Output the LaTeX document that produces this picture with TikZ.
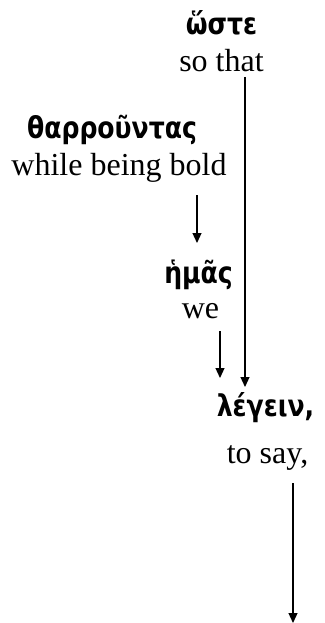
\documentclass[tikz,border=0pt]{standalone}
\usepackage{fontspec}
\setmainfont{Liberation Serif}
\newfontfamily\grk[FakeStretch=0.93]{DejaVu Sans Condensed}
\usetikzlibrary{arrows.meta,calc}
\tikzset{
  gk/.style={anchor=base,inner sep=0pt,font=\grk\bfseries\fontsize{30}{33}\selectfont},
  en/.style={anchor=base,inner sep=0pt,font=\fontsize{32}{35}\selectfont},
  arr/.style={line width=1.2pt,-{Triangle[length=10pt,width=9pt]}}
}
\begin{document}
\begin{tikzpicture}[x=1pt,y=1pt]
\useasboundingbox (0,0) rectangle (324,-623);
\node[gk] (woste) at (221.5,-35) {ὥστε};
\node[en] (sothat) at (221.5,-72) {so that};
\node[gk] (tharr) at (112,-138) {θαρροῦντας};
\node[en] (bold) at (119,-175) {while being bold};
\node[gk] (hemas) at (198.5,-283) {ἡμᾶς};
\node[en] (we) at (200.5,-318) {we};
\node[gk] (legein) at (265.5,-416) {λέγειν,};
\node[en] (tosay) at (267.5,-463) {to say,};
\coordinate (end) at (293,-623);
\draw[arr] ($(sothat.base)+(23.5,-5)$) -- ($(sothat.base |- legein.base)+(23.5,29)$);
\draw[arr] ($(bold.base)+(78,-20)$) -- ($(bold.base |- hemas.base)+(78,40)$);
\draw[arr] ($(we.base)+(19.5,-13)$) -- ($(we.base |- legein.base)+(19.5,38)$);
\draw[arr] ($(tosay.base)+(25.5,-20)$) -- (end);
\end{tikzpicture}
\end{document}
